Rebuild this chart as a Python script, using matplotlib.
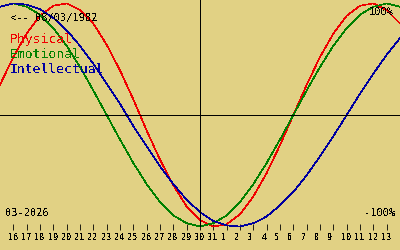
import matplotlib
matplotlib.use("Agg")
import matplotlib.pyplot as plt
import matplotlib.transforms as mtransforms

# days shown on the chart (15 and 14 only reach the edges)
days = [15, 16, 17, 18, 19, 20, 21, 22, 23, 24, 25, 26, 27, 28, 29, 30, 31,
        1, 2, 3, 4, 5, 6, 7, 8, 9, 10, 11, 12, 13, 14]
tick_days = days[1:-1]

physical = [0.27, 0.52, 0.73, 0.89, 0.98, 1.00, 0.94, 0.82, 0.63, 0.40, 0.14,
            -0.14, -0.40, -0.63, -0.82, -0.94, -1.00, -0.98, -0.89, -0.73, -0.52,
            -0.27, 0.00, 0.27, 0.52, 0.73, 0.89, 0.98, 1.00, 0.94, 0.82]
emotional = [0.97, 1.00, 0.97, 0.90, 0.78, 0.62, 0.43, 0.22, 0.00, -0.22, -0.43,
             -0.62, -0.78, -0.90, -0.97, -1.00, -0.97, -0.90, -0.78, -0.62, -0.43,
             -0.22, 0.00, 0.22, 0.43, 0.62, 0.78, 0.90, 0.97, 1.00, 0.97]
intellectual = [0.97, 1.00, 0.99, 0.95, 0.87, 0.76, 0.62, 0.46, 0.28, 0.10, -0.10,
                -0.28, -0.46, -0.62, -0.76, -0.87, -0.95, -0.99, -1.00, -0.97, -0.91,
                -0.81, -0.69, -0.54, -0.37, -0.19, 0.00, 0.19, 0.37, 0.54, 0.69]

birth = "08/03/1982"
month = "03-2026"
today_index = 14  # day 30

bg = "#E1D184"
red = "#F00000"
green = "#008000"
blue = "#0000A0"
mono = "DejaVu Sans Mono"

plt.rcParams["text.antialiased"] = False

fig = plt.figure(figsize=(4, 2.5), dpi=100, facecolor=bg)
ax = fig.add_axes([0, 23 / 250, 1, 227 / 250])
ax.set_facecolor(bg)

x = list(range(-1, len(days) - 1))
lw = 0.6
clw = 0.45
ax.plot(x, physical, color=red, lw=clw, antialiased=False)
ax.plot(x, emotional, color=green, lw=clw, antialiased=False)
ax.plot(x, intellectual, color=blue, lw=clw, antialiased=False)

ax.axhline(0, color="black", lw=lw, antialiased=False)
ax.axvline(today_index, color="black", lw=lw, antialiased=False)

ax.set_xlim(-1, 29)
ax.set_ylim(-1.004, 1.031)
for s in ax.spines.values():
    s.set_visible(False)
ax.set_yticks([])
ax.set_xticks(range(len(tick_days)))
ax.set_xticklabels([str(d) for d in tick_days], fontfamily=mono, fontsize=6.1)
ax.tick_params(axis="x", direction="inout", length=4.3, width=lw, pad=2.2,
               colors="black")
offset = mtransforms.ScaledTranslation(-5.5 / 100, 0, fig.dpi_scale_trans)
for lab in ax.get_xticklabels():
    lab.set_horizontalalignment("left")
    lab.set_transform(lab.get_transform() + offset)


def px(xp, yp):
    return xp / 400, 1 - yp / 250


fig.text(*px(10, 21), "<-- " + birth, fontfamily=mono, fontsize=7.5, va="baseline")
fig.text(*px(394, 15), "100%", fontfamily=mono, fontsize=7.5, va="baseline", ha="right")
fig.text(*px(395, 216), "-100%", fontfamily=mono, fontsize=7.5, va="baseline", ha="right")
fig.text(*px(5, 216), month, fontfamily=mono, fontsize=7.5, va="baseline")
fig.text(*px(10, 42.5), "Physical", color=red, fontfamily=mono, fontsize=9.4, va="baseline")
fig.text(*px(10, 57.5), "Emotional", color=green, fontfamily=mono, fontsize=9.4, va="baseline")
fig.text(*px(10, 73), "Intellectual", color=blue, fontfamily=mono, fontsize=9.4, va="baseline")

fig.savefig("out.png", dpi=100, facecolor=bg)
